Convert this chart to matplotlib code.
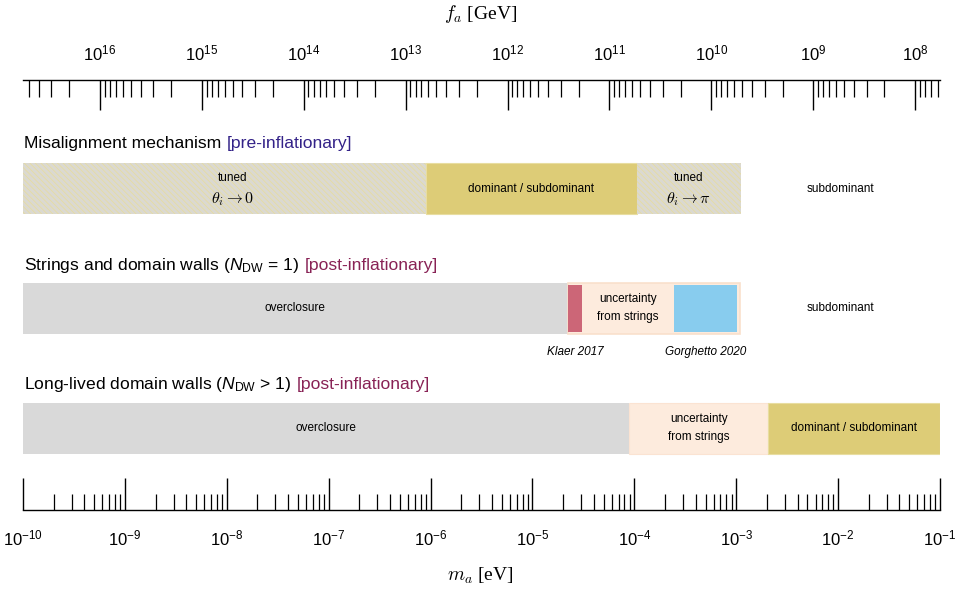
import matplotlib
matplotlib.use("Agg")
import matplotlib.pyplot as plt
import numpy as np
from matplotlib.ticker import FixedLocator, NullFormatter, FuncFormatter

plt.rcParams['font.family'] = ['Liberation Sans', 'DejaVu Sans']
plt.rcParams['mathtext.fontset'] = 'custom'
plt.rcParams['mathtext.rm'] = 'Liberation Sans'
plt.rcParams['mathtext.it'] = 'Liberation Sans:italic'
plt.rcParams['mathtext.bf'] = 'Liberation Sans:bold'
plt.rcParams['hatch.linewidth'] = 0.5

# ---------------- data ----------------
m_min, m_max = 1e-10, 1e-1
FA_CONST = 5.7e6  # f_a [GeV] = 5.7e6 / m_a [eV]
m_tick_exps = list(range(-10, 0))       # bottom axis 10^-10 ... 10^-1
fa_tick_exps = list(range(8, 17))       # top axis 10^8 ... 10^16

# Misalignment mechanism row
mis_edges = [1e-10, 9.0e-7, 1.06e-4, 1.11e-3]
mis_kinds = ['tuned', 'dominant', 'tuned']
mis_sub_text_pos = 1.05e-2
tuned0_text_pos = 1.15e-8

# Strings and domain walls (N_DW = 1)
str_overclosure = (1e-10, 2.22e-5)
str_uncertainty = (2.22e-5, 1.08e-3)
str_klaer = (2.25e-5, 3.06e-5)
str_gorghetto = (2.47e-4, 1.02e-3)
str_unc_text_pos = (3.06e-5, 2.47e-4)

# Long-lived domain walls (N_DW > 1)
dw_edges = [1e-10, 8.9e-5, 2.05e-3, 1e-1]

rows_title = [
    "Misalignment mechanism",
    r"Strings and domain walls ($N_{\mathrm{DW}}$ = 1)",
    r"Long-lived domain walls ($N_{\mathrm{DW}}$ > 1)",
]
rows_tag = ["[pre-inflationary]", "[post-inflationary]", "[post-inflationary]"]
tag_colors = ["#332288", "#882255", "#882255"]

GRAY = "#d9d9d9"
GOLD = "#ddcc77"
PEACH = "#fdebdd"
ROSE = "#cc6677"
CYAN = "#88ccee"

# ---------------- figure ----------------
W, H = 961, 593
fig = plt.figure(figsize=(W / 100, H / 100), dpi=100)
x0, x1 = 23, 940
ytop, ybot = 80, 510
ax = fig.add_axes([x0 / W, (H - ybot) / H, (x1 - x0) / W, (ybot - ytop) / H])
ax.set_xscale('log')
ax.set_xlim(m_min, m_max)
ax.set_ylim(ybot, ytop)
for s in ['left', 'right', 'top']:
    ax.spines[s].set_visible(False)
ax.spines['bottom'].set_linewidth(1.0)
ax.tick_params(axis='y', left=False, labelleft=False)

def pow_fmt(v, pos):
    e = int(round(np.log10(v)))
    return r"$10^{%d}$" % e if e >= 0 else r"$10^{\minus%d}$" % (-e) if False else r"$10^{-%d}$" % (-e)

def minor_list(exps_lo, exps_hi, lo, hi):
    out = []
    for e in range(exps_lo, exps_hi + 1):
        for s in range(2, 10):
            v = s * 10.0 ** e
            if lo < v < hi:
                out.append(v)
    return out

ax.xaxis.set_major_locator(FixedLocator([10.0 ** e for e in m_tick_exps]))
ax.xaxis.set_major_formatter(FuncFormatter(pow_fmt))
ax.xaxis.set_minor_locator(FixedLocator(minor_list(-11, 0, m_min, m_max)))
ax.xaxis.set_minor_formatter(NullFormatter())
ax.tick_params(axis='x', which='major', direction='in', length=23, width=1.0,
               labelsize=12, pad=13, bottom=True, top=False)
ax.tick_params(axis='x', which='minor', direction='in', length=11.5, width=0.9,
               bottom=True, top=False)

# top axis (f_a), same frame, reversed log limits
fa_hi, fa_lo = FA_CONST / m_min, FA_CONST / m_max
tx = ax.twiny()
tx.set_xscale('log')
tx.set_xlim(fa_hi, fa_lo)
for s in ['left', 'right', 'bottom']:
    tx.spines[s].set_visible(False)
tx.spines['top'].set_linewidth(1.0)
tx.xaxis.set_major_locator(FixedLocator([10.0 ** e for e in fa_tick_exps]))
tx.xaxis.set_major_formatter(FuncFormatter(pow_fmt))
tx.xaxis.set_minor_locator(FixedLocator(minor_list(6, 17, fa_lo, fa_hi)))
tx.xaxis.set_minor_formatter(NullFormatter())
tx.tick_params(axis='x', which='major', direction='in', length=21.5, width=1.0,
               labelsize=12, pad=12, top=True, bottom=False)
tx.tick_params(axis='x', which='minor', direction='in', length=12, width=0.9,
               top=True, bottom=False)

# axis labels
fig.text(0.5, 1 - 14 / H, r"$f_a$ [GeV]", ha='center', va='center', fontsize=14,
         family='Liberation Serif', math_fontfamily='cm')
fig.text(0.5, 1 - 576 / H, r"$m_a$ [eV]", ha='center', va='center', fontsize=14,
         family='Liberation Serif', math_fontfamily='cm')

# row titles
TFS = 12.6
title_y = [143, 265, 384]
for t, tag, c, y in zip(rows_title, rows_tag, tag_colors, title_y):
    tt = ax.text(m_min * 1.03, y, t, ha='left', va='center', fontsize=TFS, color='black')
    ax.annotate(tag, xycoords=tt, xy=(1, 0.5), xytext=(3.5, 0), textcoords='offset points',
                va='center', ha='left', fontsize=TFS, color=c)

BAR_H = 51
def bar(y, left, right, **kw):
    ax.barh(y, right - left, left=left, height=BAR_H, **kw)

def gmid(a, b):
    return np.sqrt(a * b)

FS = 8.5

# Misalignment row
y1 = 188.5
for (l, r), kind in zip(zip(mis_edges[:-1], mis_edges[1:]), mis_kinds):
    if kind == 'tuned':
        bar(y1, l, r, facecolor='#dbd9d0', edgecolor='#e8dc9a', hatch='\\\\\\\\\\\\', linewidth=0)
    else:
        bar(y1, l, r, facecolor=GOLD, edgecolor='#e8dda0', linewidth=0.8)
ax.text(tuned0_text_pos, 178, "tuned", ha='center', va='center', fontsize=FS)
ax.text(tuned0_text_pos, 199, r"$\theta_i \rightarrow 0$", ha='center', va='center',
        fontsize=11.5, math_fontfamily='cm')
ax.text(gmid(mis_edges[1], mis_edges[2]), y1, "dominant / subdominant", ha='center',
        va='center', fontsize=FS)
tp = gmid(mis_edges[2], mis_edges[3])
ax.text(tp, 178, "tuned", ha='center', va='center', fontsize=FS)
ax.text(tp, 199, r"$\theta_i \rightarrow \pi$", ha='center', va='center', fontsize=11.5,
        math_fontfamily='cm')
ax.text(mis_sub_text_pos, y1, "subdominant", ha='center', va='center', fontsize=FS)

# Strings row
y2 = 308
bar(y2, *str_overclosure, facecolor=GRAY, linewidth=0)
bar(y2, *str_uncertainty, facecolor=PEACH, edgecolor='#f9e0cc', linewidth=1.2)
ax.barh(y2, str_klaer[1] - str_klaer[0], left=str_klaer[0], height=BAR_H - 4,
        facecolor=ROSE, linewidth=0)
ax.barh(y2, str_gorghetto[1] - str_gorghetto[0], left=str_gorghetto[0], height=BAR_H - 4,
        facecolor=CYAN, linewidth=0)
ax.text(gmid(*str_overclosure), y2, "overclosure", ha='center', va='center', fontsize=FS)
ax.text(gmid(*str_unc_text_pos), y2, "uncertainty\nfrom strings", ha='center',
        va='center', fontsize=FS, linespacing=1.6)
ax.text(mis_sub_text_pos, y2, "subdominant", ha='center', va='center', fontsize=FS)
ax.text(gmid(*str_klaer), 352, "Klaer 2017", ha='center', va='center', fontsize=FS,
        style='italic')
ax.text(gmid(*str_gorghetto), 352, "Gorghetto 2020", ha='center', va='center',
        fontsize=FS, style='italic')

# Domain walls row
y3 = 428
bar(y3, dw_edges[0], dw_edges[1], facecolor=GRAY, linewidth=0)
bar(y3, dw_edges[1], dw_edges[2], facecolor=PEACH, edgecolor='#fbe3d2', linewidth=0.8)
bar(y3, dw_edges[2], dw_edges[3], facecolor=GOLD, edgecolor='#e8dda0', linewidth=0.8)
ax.text(gmid(dw_edges[0], dw_edges[1]), y3, "overclosure", ha='center', va='center', fontsize=FS)
ax.text(gmid(dw_edges[1], dw_edges[2]), y3, "uncertainty\nfrom strings", ha='center',
        va='center', fontsize=FS, linespacing=1.6)
ax.text(gmid(dw_edges[2], dw_edges[3]), y3, "dominant / subdominant", ha='center',
        va='center', fontsize=FS)

fig.savefig("out.png", dpi=100)
